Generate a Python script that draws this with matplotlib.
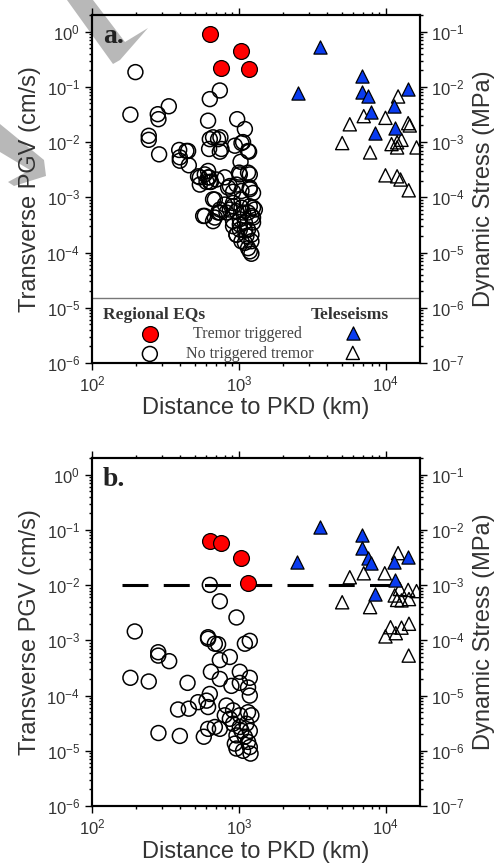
import numpy as np
import matplotlib
matplotlib.use("Agg")
import matplotlib.pyplot as plt
from matplotlib.ticker import LogLocator, NullFormatter
from matplotlib.patches import Polygon

plt.rcParams['font.family'] = ['Liberation Sans', 'DejaVu Sans']
plt.rcParams['mathtext.fontset'] = 'custom'
plt.rcParams['mathtext.rm'] = 'Liberation Sans'
plt.rcParams['mathtext.it'] = 'Liberation Sans:italic'
plt.rcParams['mathtext.bf'] = 'Liberation Sans:bold'

# ---- panel a: peak ground velocity ----
# regional, tremor triggered
a_reg_trig_d = [641, 1042, 755, 1165]
a_reg_trig_v = [0.89, 0.44, 0.22, 0.21]

# regional, no tremor
a_reg_none_d = [198, 183, 281, 284, 334, 244, 244, 287, 393, 452, 397, 457, 543,
                635, 743, 618, 668, 750, 628, 743, 940, 975, 1100, 1043, 1175,
                1028, 1005, 1188, 618, 628, 646, 705, 869, 915, 1188, 1043,
                572, 668, 723, 687, 543, 603, 914, 824, 914, 964, 1100, 1188,
                1218, 1156, 1218, 1188, 1043, 1250, 1016, 1069, 869, 743, 1016,
                1100, 1250, 1286, 1127,
                440, 397, 635, 723, 762, 1069, 1156, 528, 587, 618, 635, 803,
                846, 1016, 1156, 1188, 964, 668, 587, 687, 743, 803, 914, 964,
                1043, 1156, 1250, 1250, 914, 1016, 964, 1100, 1218, 1043, 1156,
                1218]
a_reg_none_v = [0.185, 0.0314, 0.032, 0.026, 0.0445, 0.013, 0.011, 0.006, 0.0072,
                0.0069, 0.0046, 0.0038, 0.0023,
                0.060, 0.086, 0.0244, 0.0122, 0.0122, 0.0075, 0.0067, 0.0086,
                0.026, 0.0172, 0.0096, 0.0067, 0.0044, 0.0028, 0.0026, 0.003,
                0.0023, 0.0019, 0.0021, 0.0016, 0.00126, 0.0014, 0.0013,
                4.6e-4, 3.7e-4, 5.3e-4, 9.1e-4, 0.0017, 0.0019, 6.9e-4, 5.3e-4,
                3.0e-4, 2.1e-4, 1.5e-4, 1.05e-4, 1.6e-4, 2.6e-4, 4.6e-4, 6.9e-4,
                9.1e-4, 1.2e-3, 4e-4, 5.3e-4, 6e-4, 6e-4, 2.6e-4, 3.5e-4, 3.5e-4,
                6e-4, 2e-4,
                0.0069, 0.0053, 0.0113, 0.0113, 0.0075, 0.01, 0.0069, 0.0024,
                0.0026, 0.0023, 0.0019, 0.0023, 0.0015, 0.0026, 0.0028, 0.0015,
                0.0017, 9.2e-4, 4.6e-4, 4.3e-4, 5.3e-4, 7.4e-4, 7.9e-4, 5.6e-4,
                6.5e-4, 5.3e-4, 6.5e-4, 4.3e-4, 3.7e-4, 3.2e-4, 2.1e-4, 2.5e-4,
                2.1e-4, 1.6e-4, 1.2e-4, 9.5e-5]

# teleseisms
a_tele_trig_d = [2520, 3560, 6840, 6900, 7590, 14200, 11380, 7900, 11500, 8410]
a_tele_trig_v = [0.078, 0.53, 0.156, 0.082, 0.068, 0.092, 0.045, 0.035, 0.018, 0.0144]

a_tele_none_d = [12130, 7080, 9950, 5690, 14200, 14560, 5050, 10940, 11940, 12790,
                 11940, 16190, 7820, 9950, 11940, 12590, 14320]
a_tele_none_v = [0.067, 0.0295, 0.0275, 0.021, 0.022, 0.02, 0.0096, 0.0092, 0.0099,
                 0.011, 0.008, 0.008, 0.0065, 0.0025, 0.0024, 0.0021, 0.00134]

# ---- panel b ----
b_reg_trig_d = [635, 755, 1043, 1163]
b_reg_trig_v = [0.062, 0.058, 0.031, 0.0108]

b_reg_none_d = [635, 743, 964, 196, 618, 618, 687, 1100, 1188, 283,
                283, 336, 183, 244, 448, 386, 457, 284, 397, 578, 618, 687, 743,
                528, 603, 618, 635, 646, 743, 869, 1016, 1188, 1156, 1188, 1016,
                891, 743, 824, 914, 869, 1016, 1156, 1218, 914, 1016, 1127, 1188,
                964, 1100, 940, 964, 1156, 1188, 1202, 1069, 1043, 803, 723]
b_reg_none_v = [0.0101, 0.0051, 0.0026, 0.00145, 0.00114, 0.00107, 8.7e-4, 8.7e-4,
                9.8e-4, 6.1e-4,
                5.3e-4, 4.2e-4, 2.1e-4, 1.8e-4, 1.7e-4, 5.6e-5, 5.8e-5, 2.1e-5,
                1.86e-5, 1.8e-5, 2.5e-5, 2.7e-5, 2.5e-5,
                7.6e-5, 8.1e-5, 6.2e-5, 1.07e-4, 2.7e-4, 4.4e-4, 5.0e-4, 2.7e-4,
                2.1e-4, 1.4e-4, 1.0e-4, 1.7e-4, 1.5e-4, 2.0e-4, 6.6e-5, 5.4e-5,
                3.8e-5, 4.4e-5, 5.0e-5, 4.4e-5, 3.1e-5, 2.7e-5, 3.1e-5, 2.3e-5,
                1.9e-5, 1.8e-5, 1.35e-5, 1.1e-5, 1.45e-5, 1.17e-5, 8.9e-6, 1.0e-5,
                2.3e-5, 4.4e-5, 8.5e-4]

b_tele_trig_d = [3560, 6840, 6900, 7510, 7910, 14200, 11380, 11500, 8410, 2500]
b_tele_trig_v = [0.111, 0.081, 0.047, 0.031, 0.0253, 0.033, 0.026, 0.0125, 0.007, 0.026]

b_tele_none_d = [12130, 9840, 7080, 5690, 5050, 7820, 11500, 12450, 14200, 16190,
                 11940, 12790, 14380, 10770, 12790, 14380, 11700, 9950, 14320]
b_tele_none_v = [0.038, 0.0164, 0.0164, 0.0139, 0.0049, 0.004, 0.0065, 0.0085,
                 0.0082, 0.0078, 0.0054, 0.0053, 0.0056, 0.00173, 0.0017, 0.002,
                 0.00135, 0.00118, 5.3e-4]

threshold_v = 0.01
threshold_d = [160, 11000]

xlim = (100, 17000)
ylim = (1e-6, 2.0)
txt_col = '#333333'

fig = plt.figure(figsize=(4.99, 8.63), dpi=100)
ax_a = fig.add_axes([0.184, 0.5794, 0.657, 0.4032])
ax_b = fig.add_axes([0.184, 0.066, 0.657, 0.4032])
ax_a.patch.set_visible(False)


def style_axes(ax):
    ax.set_xscale('log')
    ax.set_yscale('log')
    ax.set_xlim(*xlim)
    ax.set_ylim(*ylim)
    ax.yaxis.set_minor_locator(LogLocator(base=10, subs=np.arange(2, 10), numticks=100))
    ax.yaxis.set_minor_formatter(NullFormatter())
    ax.xaxis.set_minor_formatter(NullFormatter())
    ax.set_yticks([1e-6, 1e-5, 1e-4, 1e-3, 1e-2, 1e-1, 1e0])
    ax.set_xticks([1e2, 1e3, 1e4])
    ax.tick_params(which='both', direction='out', top=True, colors='black',
                   labelcolor=txt_col, labelsize=12, width=1)
    ax.tick_params(which='major', length=5)
    ax.tick_params(which='minor', length=2.5)
    for s in ax.spines.values():
        s.set_linewidth(1.5)
    ax.set_xlabel('Distance to PKD (km)', fontsize=17, color=txt_col, labelpad=2)
    ax.set_ylabel('Transverse PGV (cm/s)', fontsize=17, color=txt_col, labelpad=4)

    ax2 = ax.twinx()
    ax2.set_yscale('log')
    ax2.set_ylim(ylim[0] * 0.1, ylim[1] * 0.1)
    ax2.yaxis.set_minor_locator(LogLocator(base=10, subs=np.arange(2, 10), numticks=100))
    ax2.yaxis.set_minor_formatter(NullFormatter())
    ax2.set_yticks([1e-7, 1e-6, 1e-5, 1e-4, 1e-3, 1e-2, 1e-1])
    ax2.tick_params(which='both', direction='out', labelcolor=txt_col, labelsize=12, width=1)
    ax2.tick_params(which='major', length=5)
    ax2.tick_params(which='minor', length=2.5)
    for s in ax2.spines.values():
        s.set_linewidth(1.5)
    ax2.set_ylabel('Dynamic Stress (MPa)', fontsize=17, color=txt_col, labelpad=6)
    return ax2


def draw_points(ax, rn_d, rn_v, rt_d, rt_v, tn_d, tn_v, tt_d, tt_v):
    ax.scatter(rn_d, rn_v, s=115, facecolors='none', edgecolors='black', linewidths=1.1, zorder=3)
    ax.scatter(tn_d, tn_v, s=90, marker='^', facecolors='none', edgecolors='black', linewidths=1.0, zorder=3)
    ax.scatter(tt_d, tt_v, s=90, marker='^', facecolors='#0a3cf0', edgecolors='black', linewidths=0.9, zorder=4)
    ax.scatter(rt_d, rt_v, s=130, facecolors='#ff0000', edgecolors='black', linewidths=0.9, zorder=4)


ax2_a = style_axes(ax_a)
ax2_b = style_axes(ax_b)

draw_points(ax_a, a_reg_none_d, a_reg_none_v, a_reg_trig_d, a_reg_trig_v,
            a_tele_none_d, a_tele_none_v, a_tele_trig_d, a_tele_trig_v)
draw_points(ax_b, b_reg_none_d, b_reg_none_v, b_reg_trig_d, b_reg_trig_v,
            b_tele_none_d, b_tele_none_v, b_tele_trig_d, b_tele_trig_v)

# threshold line in b
ax_b.plot(threshold_d, [threshold_v, threshold_v], color='black', lw=2.2,
          linestyle=(0, (8.5, 5.0)), zorder=2)

# panel letters
for ax, lab in [(ax_a, 'a.'), (ax_b, 'b.')]:
    ax.text(0.034, 0.92, lab, transform=ax.transAxes, fontsize=20, fontweight='bold',
            family='Liberation Serif', color='#222222', va='baseline', ha='left')

# legend box inside panel a
ax_a.axhline(1.5e-5, color='#777777', lw=1.0, zorder=2)
tr = ax_a.transAxes
ax_a.text(0.034, 0.138, 'Regional EQs', transform=tr, fontsize=12.5, fontweight='bold',
          family='Liberation Serif', color=txt_col, va='center', ha='left')
ax_a.text(0.787, 0.138, 'Teleseisms', transform=tr, fontsize=12.5, fontweight='bold',
          family='Liberation Serif', color=txt_col, va='center', ha='center')
ax_a.text(0.476, 0.083, 'Tremor triggered', transform=tr, fontsize=11.5,
          family='Liberation Serif', color='#444444', va='center', ha='center')
ax_a.text(0.482, 0.026, 'No triggered tremor', transform=tr, fontsize=11.5,
          family='Liberation Serif', color='#444444', va='center', ha='center')
ax_a.scatter([0.177], [0.083], s=130, transform=tr, facecolors='#ff0000',
             edgecolors='black', linewidths=0.9, zorder=5, clip_on=False)
ax_a.scatter([0.177], [0.026], s=115, transform=tr, facecolors='none',
             edgecolors='black', linewidths=1.1, zorder=5, clip_on=False)
ax_a.scatter([0.796], [0.085], s=90, marker='^', transform=tr, facecolors='#0a3cf0',
             edgecolors='black', linewidths=0.9, zorder=5, clip_on=False)
ax_a.scatter([0.796], [0.029], s=90, marker='^', transform=tr, facecolors='none',
             edgecolors='black', linewidths=1.0, zorder=5, clip_on=False)

# faint watermark pieces in the top-left corner (behind everything)
W, H = 499.0, 863.0
wm_shapes = [
    [(67, 0), (93, 0), (125, 42), (148, 28), (120, 60), (113, 64)],
    [(0, 124), (0, 152), (30, 170), (8, 182), (14, 186), (46, 176), (44, 160)],
]
for pts in wm_shapes:
    fig.add_artist(Polygon([(x / W, 1 - y / H) for x, y in pts], closed=True,
                           facecolor='#b8b8b8', edgecolor='none', zorder=-1))

fig.savefig('out.png', dpi=100)
